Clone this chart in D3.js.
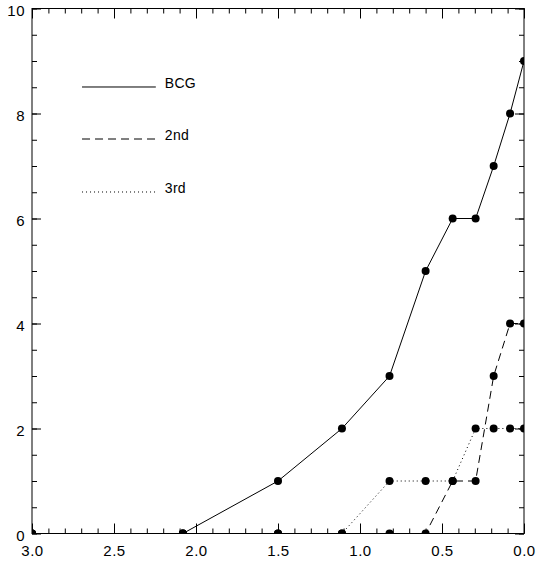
<!DOCTYPE html>
<html>
<head>
<meta charset="utf-8">
<script src="https://cdn.jsdelivr.net/npm/d3@7"></script>
<style>
  body { margin: 0; background: #fff; }
  svg { display: block; font-family: "Liberation Sans", Arial, sans-serif; }
  .axis text { font-size: 15px; fill: #000; letter-spacing: 0.5px; }
  .axis line { stroke: #000; }
  .data-line { fill: none; stroke: #000; stroke-width: 1; }
</style>
</head>
<body>
<svg id="chart" width="538" height="565"></svg>
<script>
// shared x positions (axis reversed: 3.0 on the left, 0.0 on the right)
const xValues = [3.0, 2.08, 1.5, 1.11, 0.82, 0.6, 0.435, 0.295, 0.185, 0.085, 0.0];
const bcgValues = [0, 0, 1, 2, 3, 5, 6, 6, 7, 8, 9];
const secondValues = [0, 0, 0, 0, 0, 0, 1, 1, 3, 4, 4];
const thirdValues = [0, 0, 0, 0, 1, 1, 1, 2, 2, 2, 2];

const seriesNames = ["BCG", "2nd", "3rd"];
const xTicks = [3.0, 2.5, 2.0, 1.5, 1.0, 0.5, 0.0];
const yTicks = [0, 2, 4, 6, 8, 10];

const DASH = { BCG: null, "2nd": "8,5", "3rd": "1,3" };

const MARGIN = { top: 8.5, bottom: 31.5, left: 32, right: 14 };
const width = 538;
const height = 565;

const svg = d3.select("#chart");

const x = d3.scaleLinear().domain([3, 0]).range([MARGIN.left, width - MARGIN.right]);
const y = d3.scaleLinear().domain([0, 10]).range([height - MARGIN.bottom, MARGIN.top]);

const minorX = d3.range(0, 31).map((d) => d / 10);
const minorY = d3.range(0, 21).map((d) => d / 2);

// axes on all four sides, ticks pointing inward
function addAxis(axisFn, scale, translate, ticks, size, labels, padding) {
  const ax = axisFn(scale)
    .tickValues(ticks)
    .tickSizeInner(-size)
    .tickSizeOuter(0)
    .tickPadding(padding || 7)
    .tickFormat(labels ? labels : () => "");
  return svg
    .append("g")
    .attr("class", "axis")
    .attr("transform", translate)
    .call(ax)
    .call((g) => g.select(".domain").remove())
    .call((g) => g.selectAll("text").attr("font-family", null).attr("font-size", null));
}

const bottomT = `translate(0,${y(0)})`;
const topT = `translate(0,${y(10)})`;
const leftT = `translate(${x(3)},0)`;
const rightT = `translate(${x(0)},0)`;

addAxis(d3.axisBottom, x, bottomT, minorX, 5, null);
addAxis(d3.axisBottom, x, bottomT, xTicks, 10, d3.format(".1f"), 12);
addAxis(d3.axisTop, x, topT, minorX, 5, null);
addAxis(d3.axisTop, x, topT, xTicks, 10, null);
addAxis(d3.axisLeft, y, leftT, minorY, 5, null);
addAxis(d3.axisLeft, y, leftT, yTicks, 9, d3.format("d"), 7)
  .selectAll("text")
  .attr("dy", "0.45em");
addAxis(d3.axisRight, y, rightT, minorY, 5, null);
addAxis(d3.axisRight, y, rightT, yTicks, 9, null);

svg
  .append("rect")
  .attr("x", x(3))
  .attr("y", y(10))
  .attr("width", x(0) - x(3))
  .attr("height", y(0) - y(10))
  .attr("fill", "none")
  .attr("stroke", "#000");

svg
  .append("clipPath")
  .attr("id", "plot-clip")
  .append("rect")
  .attr("x", x(3))
  .attr("y", y(10))
  .attr("width", x(0) - x(3))
  .attr("height", y(0) - y(10));

const series = [bcgValues, secondValues, thirdValues].map((vals, i) => ({
  name: seriesNames[i],
  points: xValues.map((xv, j) => [xv, vals[j]]),
}));

const line = d3.line(([xv]) => x(xv), ([, yv]) => y(yv));

const plot = svg.append("g").attr("clip-path", "url(#plot-clip)");

plot
  .selectAll(".data-line")
  .data(series)
  .join("path")
  .attr("class", "data-line")
  .attr("stroke-dasharray", (d) => DASH[d.name])
  .attr("d", (d) => line(d.points));

plot
  .selectAll(".data-series")
  .data(series)
  .join("g")
  .attr("class", "data-series")
  .each(function (d) {
    d3.select(this)
      .selectAll("circle")
      .data(d.points)
      .join("circle")
      .attr("cx", ([xv]) => x(xv))
      .attr("cy", ([, yv]) => y(yv))
      .attr("r", 4)
      .attr("fill", "#000");
  });

// legend in data coordinates (upper left)
const legendX = [2.695, 2.245];
const legendY = [8.505, 7.514, 6.505];

const legend = svg
  .selectAll(".legend-item")
  .data(series)
  .join("g")
  .attr("class", "legend-item");

legend
  .append("line")
  .attr("x1", x(legendX[0]))
  .attr("x2", x(legendX[1]))
  .attr("y1", (d, i) => y(legendY[i]))
  .attr("y2", (d, i) => y(legendY[i]))
  .attr("stroke", "#000")
  .attr("stroke-dasharray", (d) => DASH[d.name]);

legend
  .append("text")
  .attr("x", x(legendX[1]) + 9)
  .attr("y", (d, i) => y(legendY[i]) + 1)
  .attr("font-size", 14)
  .attr("letter-spacing", 0.3)
  .text((d) => d.name);
</script>
</body>
</html>
